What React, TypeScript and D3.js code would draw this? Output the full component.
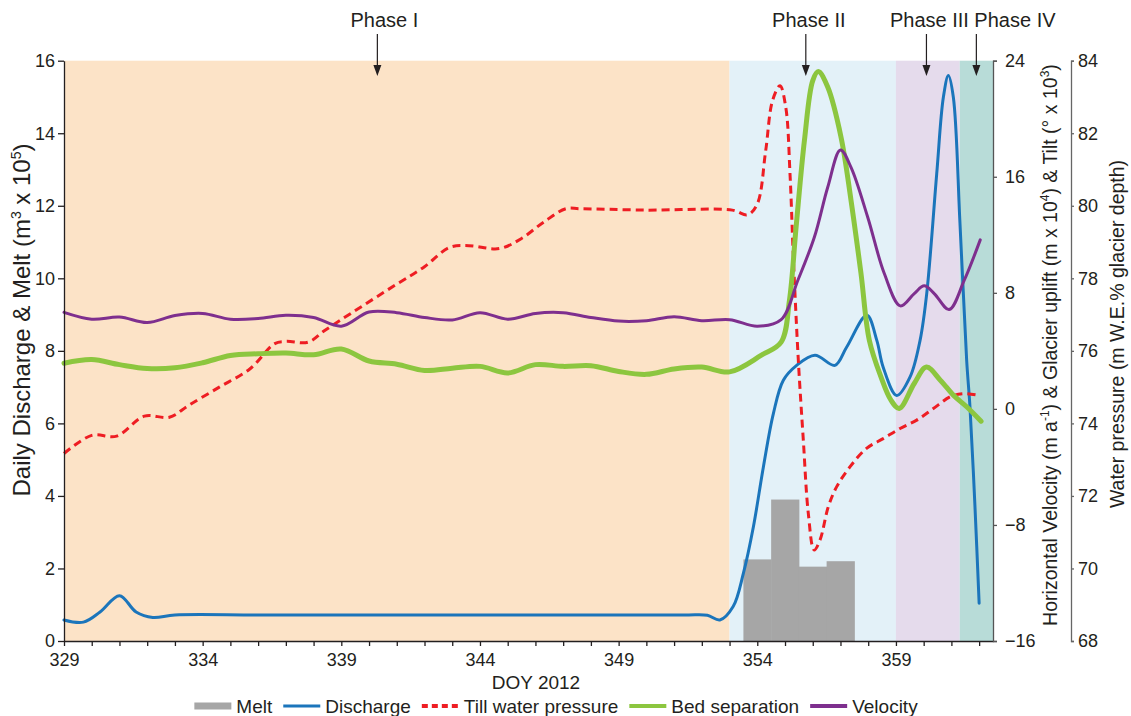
import React, { useEffect, useRef } from "react";
import * as d3 from "d3";

// Axis extents
const dayExtent: [number, number] = [329, 362.5];
const dischargeExtent: [number, number] = [0, 16];
const velocityExtent: [number, number] = [-16, 24];
const pressureExtent: [number, number] = [68, 84];

// Tick values
const dayTickLabels = [329, 334, 339, 344, 349, 354, 359];
const dischargeTicks = [0, 2, 4, 6, 8, 10, 12, 14, 16];
const velocityTicks = [-16, -8, 0, 8, 16, 24];
const pressureTicks = [68, 70, 72, 74, 76, 78, 80, 82, 84];

// Phases (day boundaries) and where their arrows point
const phaseNames = ["Phase I", "Phase II", "Phase III", "Phase IV"];
const phaseBounds = [329, 353, 359, 361.3, 362.5];
const phaseArrowDays = [340.3, 355.75, 360.1, 361.9];

// Daily melt (m3 x 10^5)
const meltDays = [354, 355, 356, 357];
const meltValues = [2.25, 3.9, 2.05, 2.2];

// Discharge (m3 x 10^5) as [day, value]
const discharge: [number, number][] = [
  [329, 0.58], [329.7, 0.52], [330.3, 0.8], [331, 1.25], [331.6, 0.8], [332.2, 0.65],
  [333, 0.72], [336, 0.72], [340, 0.72], [344, 0.72], [348, 0.72], [350, 0.72],
  [351.5, 0.72], [352.2, 0.71], [352.65, 0.58], [353.13, 0.95],
  [353.5, 1.87], [353.86, 3.15], [354.22, 4.8], [354.58, 6.27], [354.94, 7.19],
  [355.42, 7.6], [356.08, 7.88], [356.8, 7.6], [357.22, 8.1], [357.95, 8.98],
  [358.31, 8.29], [358.54, 7.55], [359.03, 6.77], [359.51, 7.28], [359.87, 8.29],
  [360.11, 9.58], [360.47, 12.88], [360.71, 14.99], [360.89, 15.59], [361.07, 14.99],
  [361.31, 11.5], [361.55, 7.74], [361.67, 6.45], [361.85, 3.7], [362.0, 1.04],
];

// Till water pressure (m W.E. % glacier depth) as [day, value]
const tillPressure: [number, number][] = [
  [329, 73.17], [330, 73.67], [330.9, 73.65], [331.9, 74.2], [332.8, 74.17], [333.5, 74.5],
  [334.6, 75.0], [335.7, 75.5], [336.6, 76.2], [337.0, 76.26], [337.8, 76.24], [338.4, 76.56],
  [339.4, 77.06], [341, 77.84], [342, 78.32], [342.9, 78.85], [343.6, 78.9], [344.7, 78.82],
  [345.5, 79.1], [346.3, 79.55], [347.1, 79.92], [347.6, 79.92], [350, 79.88], [353.1, 79.88],
  [353.65, 79.75], [354.0, 80.05], [354.3, 81.5], [354.55, 82.9], [354.82, 83.31],
  [355.03, 82.7], [355.18, 80.88], [355.3, 78.58], [355.48, 75.74], [355.66, 73.54],
  [355.84, 71.52], [356.05, 70.51], [356.26, 70.78], [356.56, 71.7], [356.86, 72.25],
  [357.34, 72.8], [357.94, 73.31], [358.54, 73.58], [359.15, 73.86], [359.75, 74.09],
  [360.35, 74.41], [360.95, 74.73], [361.4, 74.82], [362, 74.77],
];

// Bed separation / glacier uplift (m x 10^4) as [day, value]
const bedSeparation: [number, number][] = [
  [329, 3.15], [330, 3.4], [331, 3.05], [332, 2.78], [333, 2.83], [334, 3.18], [335, 3.68],
  [336, 3.8], [337, 3.85], [338, 3.73], [339, 4.13], [340, 3.3], [341, 3.08], [342, 2.65],
  [343, 2.8], [344, 2.93], [345, 2.48], [346, 3.05], [347, 2.93], [348, 2.98], [349, 2.58],
  [350, 2.38], [351, 2.75], [352, 2.88], [353, 2.55], [354.15, 3.7], [354.86, 4.6],
  [355.16, 7.48], [355.4, 12.53], [355.7, 18.5], [356.0, 22.63], [356.2, 23.25],
  [356.54, 22.18], [357.02, 18.73], [357.38, 14.38], [357.74, 9.33], [358.04, 4.73],
  [358.46, 2.2], [358.82, 0.6], [359.12, 0.03], [359.66, 1.75], [360.1, 2.88],
  [360.6, 1.98], [361.08, 0.93], [361.56, 0.13], [362.07, -0.85],
];

// Horizontal velocity (m a^-1) as [day, value]
const velocity: [number, number][] = [
  [329, 6.65], [330, 6.18], [331, 6.33], [332, 5.95], [333, 6.43], [334, 6.58], [335, 6.18],
  [336, 6.23], [337, 6.45], [338, 6.3], [339, 5.7], [340, 6.68], [341, 6.63], [342, 6.3],
  [343, 6.13], [344, 6.63], [345, 6.18], [346, 6.58], [347, 6.63], [348, 6.3], [349, 6.05],
  [350, 6.08], [351, 6.35], [352, 6.08], [353, 6.15], [354, 5.7], [354.86, 6.15],
  [355.46, 8.85], [356.06, 11.85], [356.54, 15.28], [357.0, 17.85], [357.38, 16.65],
  [357.98, 13.23], [358.58, 9.33], [359.16, 7.1], [359.66, 7.95], [360.02, 8.48],
  [360.38, 7.95], [360.92, 6.85], [361.46, 8.85], [362.04, 11.65],
];

const legendLabels = ["Melt", "Discharge", "Till water pressure", "Bed separation", "Velocity"];

const FONT = "'Liberation Sans', Arial, Helvetica, sans-serif";
const INK = "#231f20";
const phaseFills = ["#fce3c7", "#e3f1f8", "#e5dbec", "#b8dcd8"];
const C = {
  melt: "#a6a6a6",
  discharge: "#1b75bb",
  till: "#ee1d23",
  bed: "#8cc63f",
  velocity: "#7e2f8e",
};

type Part = [string, boolean];

function richText(
  sel: d3.Selection<SVGTextElement, unknown, null, undefined>,
  parts: Part[],
  supSize: number,
  shift: number
) {
  let prevSup = false;
  parts.forEach(([t, sup]) => {
    const ts = sel.append("tspan").text(t);
    if (sup) {
      ts.attr("dy", -shift).attr("font-size", supSize);
    } else if (prevSup) {
      ts.attr("dy", shift);
    }
    prevSup = sup;
  });
}

export default function App() {
  const ref = useRef<SVGSVGElement>(null);

  useEffect(() => {
    const W = 1131, H = 716;
    const L = 64, R = 993, T = 60.7, B = 641;
    const R2 = 1071;

    const svg = d3.select(ref.current!);
    svg.selectAll("*").remove();
    svg.attr("font-family", FONT);
    svg.append("rect").attr("width", W).attr("height", H).attr("fill", "#fff");

    const x = d3.scaleLinear().domain(dayExtent).range([L, R]);
    const yL = d3.scaleLinear().domain(dischargeExtent).range([B, T]);
    const yV = d3.scaleLinear().domain(velocityExtent).range([B, T]);
    const yP = d3.scaleLinear().domain(pressureExtent).range([B, T]);

    // phase backgrounds
    svg.append("g").selectAll("rect")
      .data(phaseNames)
      .join("rect")
      .attr("x", (_, i) => x(phaseBounds[i]))
      .attr("width", (_, i) => x(phaseBounds[i + 1]) - x(phaseBounds[i]))
      .attr("y", T)
      .attr("height", B - T)
      .attr("fill", (_, i) => phaseFills[i]);

    // melt bars, one day wide
    svg.append("g").selectAll("rect")
      .data(meltDays)
      .join("rect")
      .attr("x", (d) => x(d - 0.5))
      .attr("width", (d) => x(d + 0.5) - x(d - 0.5) + 0.5)
      .attr("y", (_, i) => yL(meltValues[i]))
      .attr("height", (_, i) => B - yL(meltValues[i]))
      .attr("fill", C.melt);

    const mk = (s: d3.ScaleLinear<number, number>) =>
      d3.line<[number, number]>()
        .x((d) => x(d[0]))
        .y((d) => s(d[1]))
        .curve(d3.curveCatmullRom.alpha(0.5));

    svg.append("path").datum(discharge).attr("d", mk(yL))
      .attr("fill", "none").attr("stroke", C.discharge).attr("stroke-width", 3)
      .attr("stroke-linejoin", "round").attr("stroke-linecap", "round");
    svg.append("path").datum(tillPressure).attr("d", mk(yP))
      .attr("fill", "none").attr("stroke", C.till).attr("stroke-width", 3)
      .attr("stroke-dasharray", "8 5");
    svg.append("path").datum(bedSeparation).attr("d", mk(yV))
      .attr("fill", "none").attr("stroke", C.bed).attr("stroke-width", 5)
      .attr("stroke-linejoin", "round").attr("stroke-linecap", "round");
    svg.append("path").datum(velocity).attr("d", mk(yV))
      .attr("fill", "none").attr("stroke", C.velocity).attr("stroke-width", 3)
      .attr("stroke-linejoin", "round").attr("stroke-linecap", "round");

    const styleAxis = (g: d3.Selection<SVGGElement, unknown, null, undefined>, color: string) => {
      g.attr("font-family", FONT).attr("font-size", 18);
      g.select(".domain").attr("stroke", color).attr("stroke-width", 1.3);
      g.selectAll(".tick line").attr("stroke", color).attr("stroke-width", 1.3);
      g.selectAll(".tick text").attr("fill", INK);
    };

    // left axis
    const gL = svg.append("g").attr("transform", `translate(${L},0)`)
      .call(d3.axisLeft(yL).tickValues(dischargeTicks).tickSize(6).tickSizeOuter(0).tickPadding(3));
    styleAxis(gL, INK);

    // bottom axis: a tick every day, labels every five
    const gB = svg.append("g").attr("transform", `translate(0,${B})`)
      .call(
        d3.axisBottom(x)
          .tickValues(d3.range(dayExtent[0], Math.floor(dayExtent[1]) + 1))
          .tickFormat((d) => (dayTickLabels.includes(+d) ? String(d) : ""))
          .tickSize(5).tickSizeOuter(0).tickPadding(7)
      );
    styleAxis(gB, INK);

    // right axes
    const gR1 = svg.append("g").attr("transform", `translate(${R},0)`)
      .call(d3.axisRight(yV).tickValues(velocityTicks).tickSize(4).tickSizeOuter(4).tickPadding(8));
    styleAxis(gR1, "#555");
    const gR2 = svg.append("g").attr("transform", `translate(${R2},0)`)
      .call(d3.axisRight(yP).tickValues(pressureTicks).tickSize(3).tickSizeOuter(3).tickPadding(4));
    styleAxis(gR2, "#666");

    // axis titles
    const t1 = svg.append("text")
      .attr("transform", `translate(30,320) rotate(-90)`)
      .attr("text-anchor", "middle").attr("font-size", 24).attr("fill", INK);
    richText(t1, [["Daily Discharge & Melt (m", false], ["3", true], [" x 10", false], ["5", true], [")", false]], 14, 9);

    const t2 = svg.append("text")
      .attr("transform", `translate(1057,345) rotate(-90)`)
      .attr("text-anchor", "middle").attr("font-size", 19.5).attr("fill", INK);
    richText(t2, [
      ["Horizontal Velocity (m a", false], ["-1", true],
      [") & Glacier uplift (m x 10", false], ["4", true],
      [") & Tilt (\u00b0 x 10", false], ["3", true], [")", false],
    ], 12, 8);

    svg.append("text")
      .attr("transform", `translate(1124,334) rotate(-90)`)
      .attr("text-anchor", "middle").attr("font-size", 19.5).attr("fill", INK)
      .text("Water pressure (m W.E.% glacier depth)");

    svg.append("text")
      .attr("x", 536).attr("y", 689)
      .attr("text-anchor", "middle").attr("font-size", 19).attr("fill", INK)
      .text("DOY 2012");

    // phase labels and arrows
    const ph = svg.append("g");
    phaseNames.forEach((name, i) => {
      const ax = x(phaseArrowDays[i]);
      const last = i === phaseNames.length - 1;
      ph.append("text")
        .attr("x", last ? ax - 2 : ax + (i === 0 ? 7 : 3))
        .attr("y", 27)
        .attr("text-anchor", last ? "start" : "middle")
        .attr("font-size", 20).attr("fill", INK)
        .text(name);
      ph.append("line")
        .attr("x1", ax).attr("x2", ax).attr("y1", 34).attr("y2", 67)
        .attr("stroke", INK).attr("stroke-width", 1.2);
      ph.append("path")
        .attr("d", `M${ax - 4},65 L${ax + 4},65 L${ax},76 Z`)
        .attr("fill", INK);
    });

    // legend
    const lg = svg.append("g").attr("font-size", 19).attr("fill", INK);
    const ly = 706;
    const swW = 37;
    let cx = 0;
    legendLabels.forEach((label, i) => {
      const g = lg.append("g").attr("transform", `translate(${cx},0)`);
      if (i === 0) {
        g.append("rect").attr("x", 0).attr("y", ly - 3.5).attr("width", swW).attr("height", 7).attr("fill", C.melt);
      } else {
        const col = [C.discharge, C.till, C.bed, C.velocity][i - 1];
        const ln = g.append("line").attr("x1", 0).attr("x2", swW).attr("y1", ly).attr("y2", ly)
          .attr("stroke", col).attr("stroke-width", i === 1 ? 3 : 4);
        if (i === 2) ln.attr("stroke-dasharray", "6 4").attr("x2", swW + 2);
      }
      const tx = g.append("text").attr("x", swW + 5).attr("y", ly + 7).text(label);
      const w = (tx.node() as SVGTextElement).getComputedTextLength();
      cx += swW + 5 + w + 11;
    });
    const total = cx - 11;
    lg.attr("transform", `translate(${556 - total / 2},0)`);
  }, []);

  return (
    <div style={{ position: "absolute", left: 0, top: 0 }}>
      <svg ref={ref} width={1131} height={716} />
    </div>
  );
}
